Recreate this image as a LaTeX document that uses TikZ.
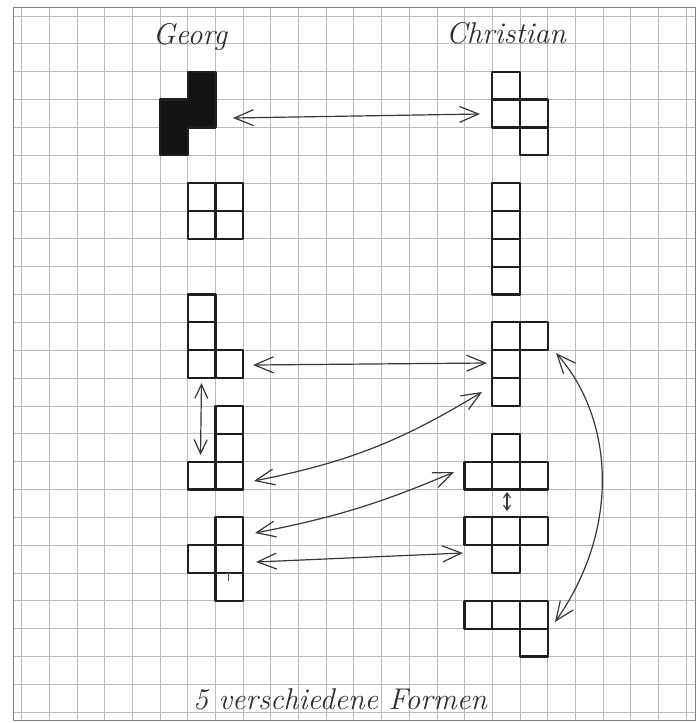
\documentclass[tikz,border=0pt]{standalone}
\usetikzlibrary{arrows.meta}
\newcommand\mycell[2]{\draw[cellline] (#1,#2) rectangle ++(1,1);}
\newcommand\myblackcell[2]{\fill[black!92] (#1,#2) rectangle ++(1,1);}
\begin{document}
\begin{tikzpicture}[x=1pt,y=-1pt,
  gridline/.style={draw=black!27, line width=0.8pt},
  frameline/.style={draw=black!50, line width=1pt},
  cellline/.style={draw=black!88, line width=2.2pt, line join=round},
  hand/.style={text=black!82, font=\itshape\fontsize{30}{36}\selectfont, inner sep=0pt},
  bigtip/.tip={Straight Barb[length=19pt,width=16pt,line width=1.2pt]},
  midtip/.tip={Straight Barb[length=14pt,width=13pt,line width=1.2pt]},
  smalltip/.tip={Straight Barb[length=5pt,width=7pt,line width=1.1pt]},
  conn/.style={draw=black!78, line width=1.2pt, bigtip-bigtip},
  vconn/.style={draw=black!78, line width=1.2pt, midtip-midtip},
  sconn/.style={draw=black!78, line width=1.2pt, smalltip-smalltip}
]
\useasboundingbox (0,0) rectangle (699,723);
\fill[white] (0,0) rectangle (699,723);
% graph paper
\foreach \k in {0,...,24} \draw[gridline] ({21.7+27.68*\k},7) -- ({21.7+27.68*\k},720);
\foreach \k in {0,...,25} \draw[gridline] (13,{16+27.85*\k}) -- (695,{16+27.85*\k});
\draw[frameline] (13,7) rectangle (695,720);

% shapes on the grid
\begin{scope}[shift={(21.7pt,-16pt)}, x=27.68pt, y=-27.85pt]
  % Georg
  \foreach \a/\b in {6/2,6/3,5/3,5/4} {\myblackcell{\a}{\b}}
  \draw[cellline] (6,2) -- (7,2) -- (7,4) -- (6,4) -- (6,5) -- (5,5) -- (5,3) -- (6,3) -- cycle;
  \foreach \a/\b in {6/6,7/6,6/7,7/7} {\mycell{\a}{\b}}
  \foreach \a/\b in {6/10,6/11,6/12,7/12} {\mycell{\a}{\b}}
  \foreach \a/\b in {7/14,7/15,7/16,6/16} {\mycell{\a}{\b}}
  \foreach \a/\b in {7/18,6/19,7/19,7/20} {\mycell{\a}{\b}}
  % Christian
  \foreach \a/\b in {17/2,17/3,18/3,18/4} {\mycell{\a}{\b}}
  \foreach \a/\b in {17/6,17/7,17/8,17/9} {\mycell{\a}{\b}}
  \foreach \a/\b in {17/11,18/11,17/12,17/13} {\mycell{\a}{\b}}
  \foreach \a/\b in {17/15,16/16,17/16,18/16} {\mycell{\a}{\b}}
  \foreach \a/\b in {16/18,17/18,18/18,17/19} {\mycell{\a}{\b}}
  \foreach \a/\b in {16/21,17/21,18/21,18/22} {\mycell{\a}{\b}}
\end{scope}
% small tick inside the last Georg shape
\draw[black!70, line width=1pt] (228,573) -- (228,581);
\draw[black!70, line width=1pt] (225.5,573) -- (230.5,573);

% titles
\node[hand, anchor=base] (georg) at (190,44) {Georg};
\node[hand, anchor=base] (christian) at (506,43) {Christian};
\node[hand, anchor=base] (caption) at (340,709) {5 verschiedene Formen};

% arrow end points
\coordinate (a1l) at (233,118);
\coordinate (a1r) at (480,114);
\coordinate (a2l) at (253,365);
\coordinate (a2r) at (487,363);
\coordinate (a3t) at (201.5,383);
\coordinate (a3b) at (200.5,455);
\coordinate (a4l) at (254,481);
\coordinate (a4r) at (482,392);
\coordinate (a5l) at (255,533);
\coordinate (a5r) at (454,472);
\coordinate (a6l) at (256,562);
\coordinate (a6r) at (463,553);
\coordinate (a7t) at (507,492);
\coordinate (a7b) at (507,511);
\coordinate (a8t) at (556,353);
\coordinate (a8b) at (555,622);

% connectors
\draw[conn] (a1l) -- (a1r);
\draw[conn] (a2l) -- (a2r);
\draw[vconn] (a3t) -- (a3b);
\draw[conn] (a4l) to[bend right=10] (a4r);
\draw[conn] (a5l) to[bend right=6] (a5r);
\draw[conn] (a6l) -- (a6r);
\draw[sconn] (a7t) -- (a7b);
\draw[conn] (a8t) .. controls (615,420) and (620,530) .. (a8b);
\end{tikzpicture}
\end{document}
